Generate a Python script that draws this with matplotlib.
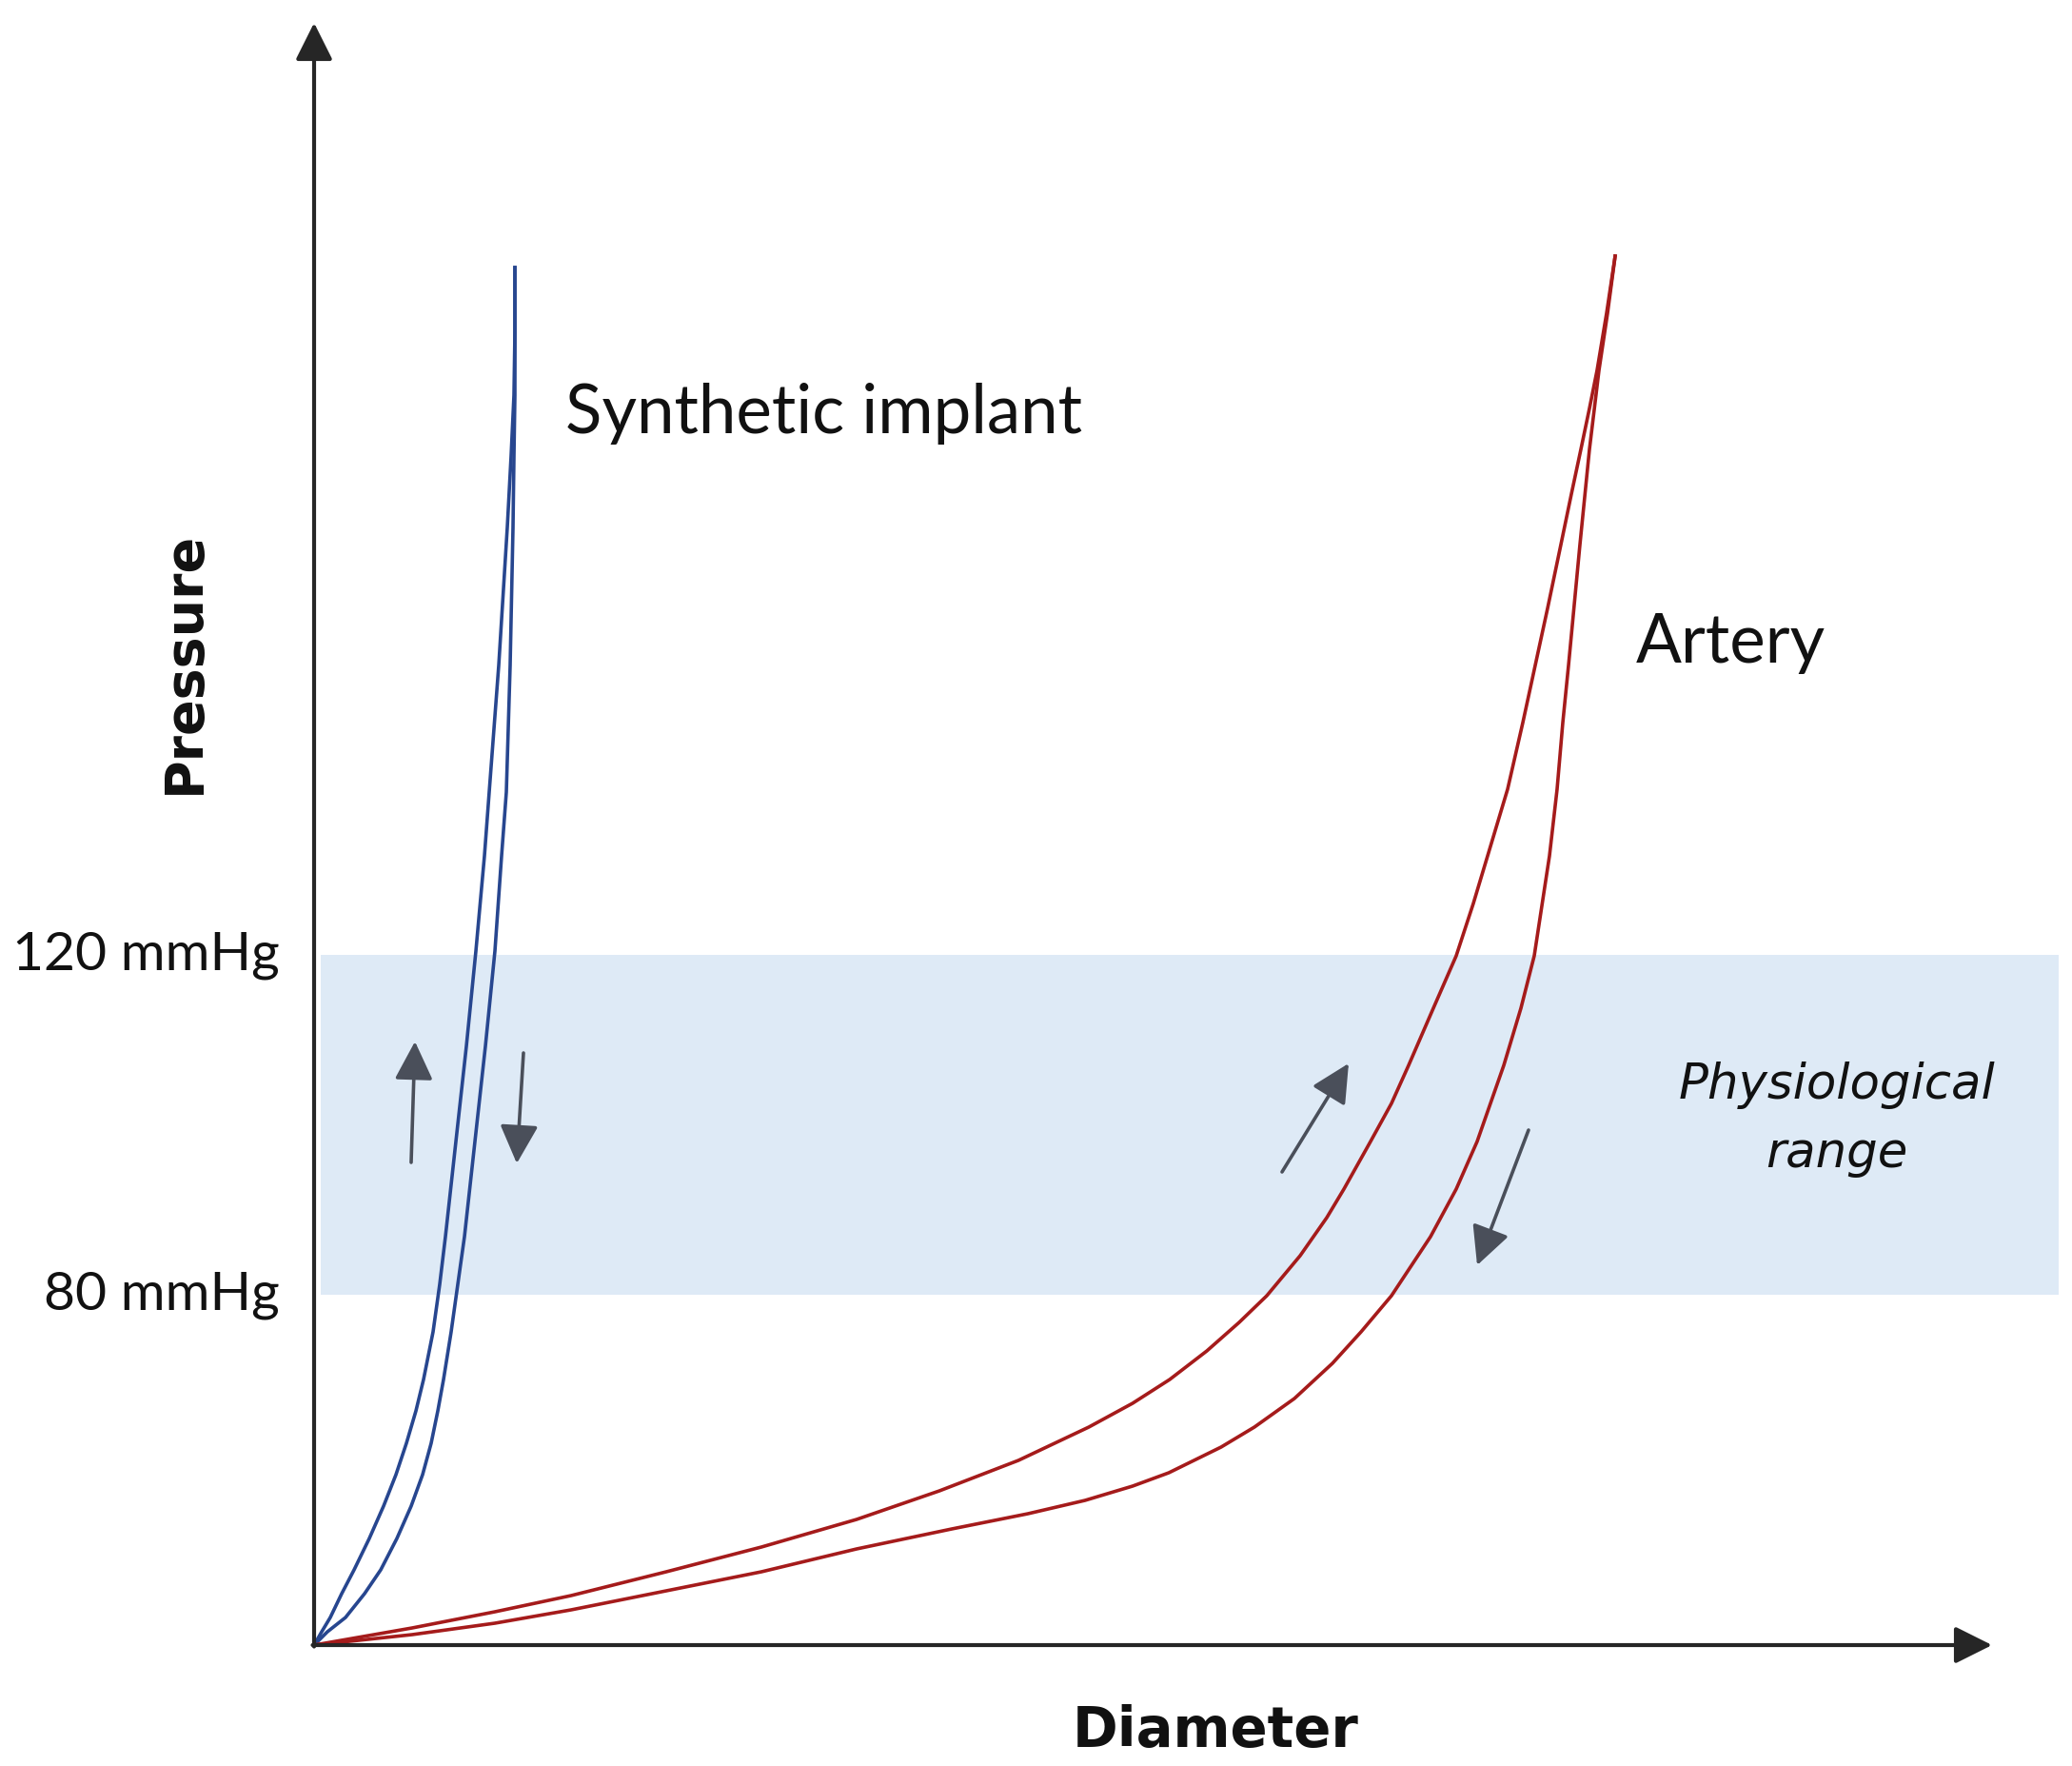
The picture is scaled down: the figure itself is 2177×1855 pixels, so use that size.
import matplotlib
matplotlib.use("Agg")
import matplotlib.pyplot as plt

plt.rcParams['font.family'] = ['Lato', 'DejaVu Sans']

# diameter / pressure in arbitrary units (origin of the sketch = 0,0)
implant_up_x = [0, 0.8, 1.7, 2.9, 4.2, 5.8, 7.3, 8.6, 9.7, 10.7, 11.5, 12.5, 13.2,
                13.8, 14.9, 16.0, 17.0, 17.9, 18.4, 19.4, 20.3, 20.7, 21.0, 21.1, 21.1]
implant_up_y = [0, 1.4, 2.9, 5.4, 7.9, 11.2, 14.6, 17.9, 21.2, 24.6, 27.9, 32.9, 37.9,
                42.9, 52.9, 62.9, 72.9, 82.9, 89.6, 102.9, 117.4, 124.9, 131.3, 137.9, 144.7]
implant_down_x = [0, 1.4, 3.3, 5.3, 7.0, 8.7, 10.2, 11.4, 12.3, 13.0, 13.6, 14.4, 15.1,
                  15.8, 16.9, 18.0, 19.0, 19.7, 20.2, 20.6, 20.9, 21.0, 21.1, 21.1, 21.1]
implant_down_y = implant_up_y

artery_up_x = [0, 10.3, 19.0, 27.0, 37.0, 47.0, 57.0, 65.7, 74.0, 81.4, 86.0, 89.9,
               93.8, 97.2, 100.1, 103.6, 106.4, 108.2, 111.0, 113.2, 115.0, 117.6,
               120.0, 121.8, 123.3, 125.4, 127.0, 128.3, 129.6, 131.0, 132.1, 133.1,
               134.0, 134.8, 135.8, 136.7]
artery_up_y = [0, 1.8, 3.5, 5.2, 7.7, 10.3, 13.2, 16.2, 19.4, 22.9, 25.4, 27.9,
               30.9, 33.9, 36.7, 40.9, 44.9, 47.9, 52.9, 56.9, 60.9, 66.9,
               72.4, 77.9, 82.9, 89.9, 96.9, 102.9, 108.9, 115.6, 120.9, 125.6,
               129.9, 133.9, 139.9, 145.9]
artery_down_x = [0, 10.3, 19.0, 27.0, 37.0, 47.0, 57.0, 67.0, 75.0, 81.0, 86.0, 89.8,
                 95.3, 98.8, 103.0, 107.0, 110.0, 113.2, 117.3, 120.0, 122.2, 125.0,
                 126.8, 128.2, 129.8, 130.6, 131.2, 131.8, 133.0, 134.0, 135.0, 135.9,
                 136.7]
artery_down_y = [0, 1.1, 2.3, 3.7, 5.7, 7.7, 10.1, 12.2, 13.8, 15.2, 16.7, 18.1,
                 20.8, 22.9, 25.9, 29.6, 32.9, 36.7, 42.9, 47.9, 52.9, 60.9,
                 66.9, 72.4, 82.9, 89.9, 96.9, 102.9, 115.6, 125.6, 133.9, 139.9,
                 145.9]

band_low, band_high = 36.8, 72.5
tick_labels = ["80 mmHg", "120 mmHg"]

# direction arrows (tail, tip)
flow_arrows = [((10.2, 50.7), (10.6, 63.4)),
               ((22.0, 62.2), (21.3, 50.6)),
               ((101.7, 49.7), (108.7, 61.1)),
               ((127.6, 54.1), (122.2, 39.9))]

fig = plt.figure(figsize=(21.77, 18.56), dpi=100)
ax = fig.add_axes([0, 0, 1, 1])
ax.set_xlim(-33.0, 184.7)
ax.set_ylim(-12.7, 172.9)
ax.axis('off')

ax.axhspan(band_low, band_high, xmin=(0.7 + 33.0) / 217.7, xmax=(183.3 + 33.0) / 217.7,
           color='#deeaf6', lw=0, zorder=0)

ax.plot(implant_up_x, implant_up_y, color='#27468f', lw=2.6, zorder=3)
ax.plot(implant_down_x, implant_down_y, color='#27468f', lw=2.6, zorder=3)
ax.plot(artery_up_x, artery_up_y, color='#a51b1b', lw=2.6, zorder=3)
ax.plot(artery_down_x, artery_down_y, color='#a51b1b', lw=2.6, zorder=3)

# axes with arrow heads
ax.annotate('', xy=(0, 170.4), xytext=(0, -0.15),
            arrowprops=dict(arrowstyle='-|>', color='#262626', lw=3, mutation_scale=60,
                            shrinkA=0, shrinkB=0))
ax.annotate('', xy=(176.3, 0), xytext=(-0.15, 0),
            arrowprops=dict(arrowstyle='-|>', color='#262626', lw=3, mutation_scale=60,
                            shrinkA=0, shrinkB=0))

for tail, tip in flow_arrows:
    ax.annotate('', xy=tip, xytext=tail,
                arrowprops=dict(arrowstyle='-|>', color='#4a4f5a', lw=2.6, mutation_scale=62,
                                shrinkA=0, shrinkB=0))

ax.text(-3.6, band_low, tick_labels[0], ha='right', va='center', fontsize=41, color='#111111')
ax.text(-3.6, band_high, tick_labels[1], ha='right', va='center', fontsize=41, color='#111111')

ax.text(26.4, 129.4, "Synthetic implant", ha='left', va='center', fontsize=51, color='#111111')
ax.text(138.9, 105.3, "Artery", ha='left', va='center', fontsize=51, color='#111111')
ax.text(160.0, 55.3, "Physiological\nrange", ha='center', va='center', fontsize=37,
        family='DejaVu Sans', style='italic', color='#111111', linespacing=1.55)

ax.text(-13.6, 103.3, "Pressure", rotation=90, ha='center', va='center', fontsize=40,
        family='DejaVu Sans', fontweight='bold', color='#111111')
ax.text(94.7, -9.0, "Diameter", ha='center', va='center', fontsize=41.5,
        family='DejaVu Sans', fontweight='bold', color='#111111')

fig.savefig("out.png", dpi=100)
